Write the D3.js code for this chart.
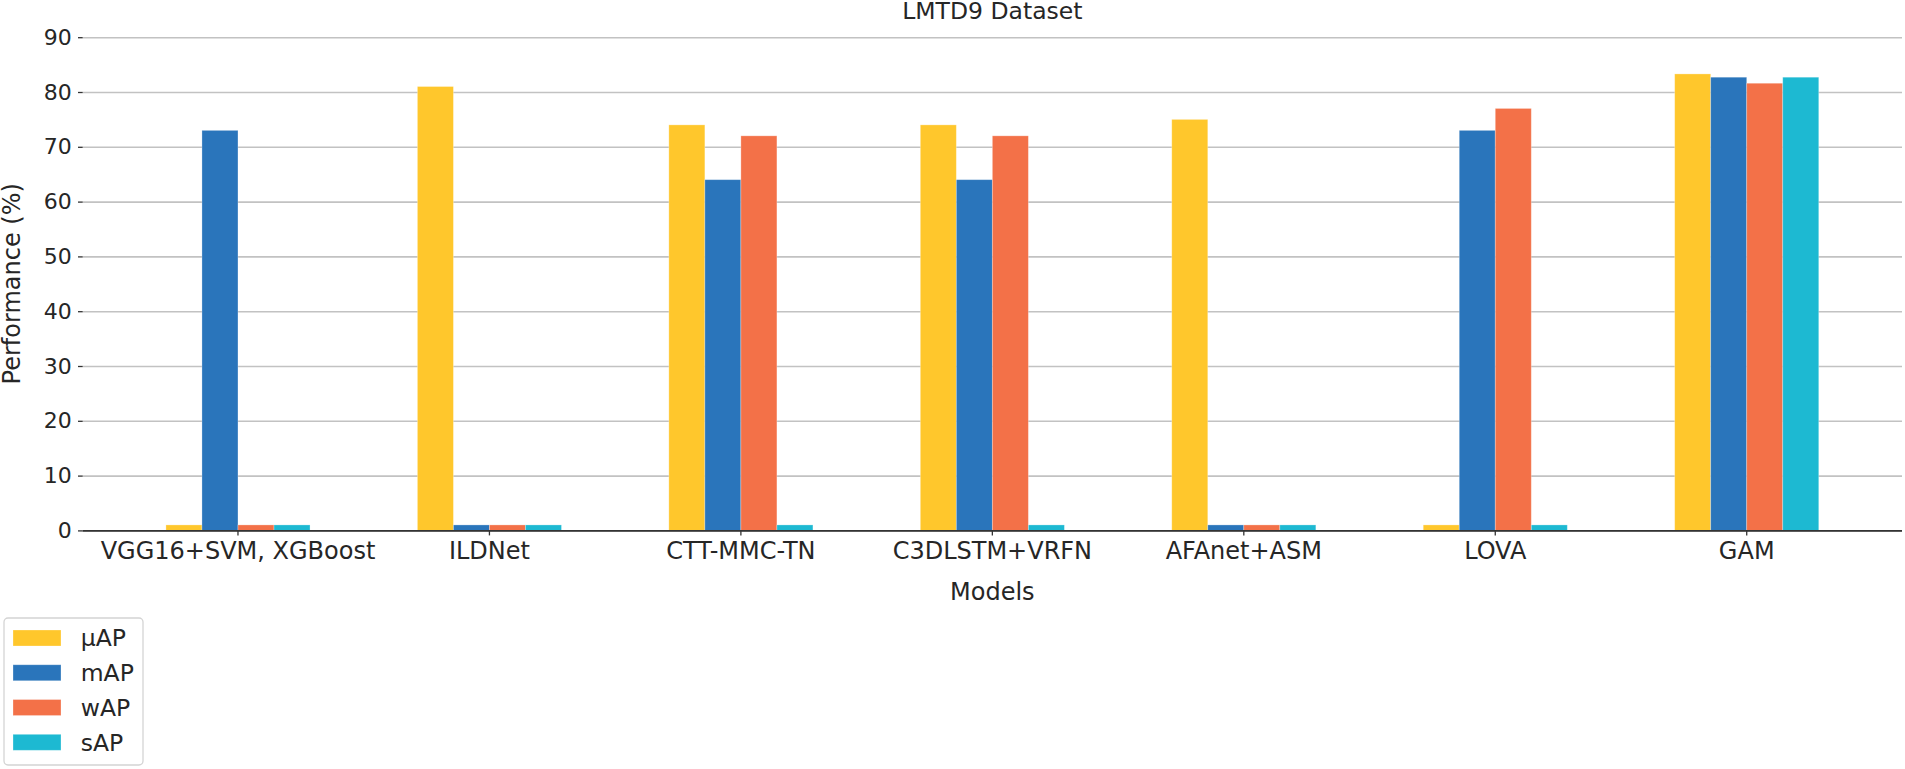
<!DOCTYPE html>
<html>
<head>
<meta charset="utf-8">
<script src="https://cdn.jsdelivr.net/npm/d3@7"></script>
<style>
  html, body { margin: 0; padding: 0; background: #fff; }
  svg { display: block; font-family: "DejaVu Sans", sans-serif; }
</style>
</head>
<body>
<svg id="chart" width="1905" height="769"></svg>
<script>
// ---- data ----
const categories = ["VGG16+SVM, XGBoost", "ILDNet", "CTT-MMC-TN", "C3DLSTM+VRFN", "AFAnet+ASM", "LOVA", "GAM"];
const seriesNames = ["µAP", "mAP", "wAP", "sAP"];
const muAP = [1, 81, 74, 74, 75, 1, 83.3];
const mAP  = [73, 1, 64, 64, 1, 73, 82.7];
const wAP  = [1, 1, 72, 72, 1, 77, 81.6];
const sAP  = [1, 1, 1, 1, 1, 1, 82.7];
const yTicks = [0, 10, 20, 30, 40, 50, 60, 70, 80, 90];
const colors = ["#FFC72C", "#2A75BB", "#F37148", "#1DB9D2"];
const chartTitle = "LMTD9 Dataset";
const xLabel = "Models";
const yLabel = "Performance (%)";

const seriesValues = [muAP, mAP, wAP, sAP];

(function () {
// ---- layout ----
const svg = d3.select("#chart");
const pLeft = 82.7, pRight = 1902, pTop = 37.2, pBottom = 530.4;
const textColor = "#262626";

const x0 = d3.scaleBand().domain(categories).range([pLeft, pRight])
  .paddingInner(0.427).paddingOuter(0.331);
const x1 = d3.scaleBand().domain(seriesNames).range([0, x0.bandwidth()]).padding(0);
const y = d3.scaleLinear().domain([0, 90]).range([pBottom, pTop]);

// gridlines
svg.append("g")
  .attr("transform", `translate(${pLeft},0)`)
  .call(d3.axisLeft(y).tickValues(yTicks).tickSize(-(pRight - pLeft)).tickFormat(""))
  .call(g => g.select(".domain").remove())
  .call(g => g.selectAll("line").attr("stroke", "#c2c2c2").attr("stroke-width", 1.6));

// bars
const rows = categories.map((c, i) => ({ cat: c, vals: seriesNames.map((s, j) => ({ s, v: seriesValues[j][i], c: colors[j] })) }));
svg.append("g").selectAll("g").data(rows).join("g")
  .attr("transform", d => `translate(${x0(d.cat)},0)`)
  .selectAll("rect").data(d => d.vals).join("rect")
  .attr("x", d => x1(d.s))
  .attr("y", d => y(d.v))
  .attr("width", x1.bandwidth())
  .attr("height", d => y(0) - y(d.v))
  .attr("fill", d => d.c)
  .attr("stroke", "rgba(255,255,255,0.35)")
  .attr("stroke-width", 0.8);

// y axis (ticks + labels)
svg.append("g")
  .attr("transform", `translate(${pLeft},0)`)
  .call(d3.axisLeft(y).tickValues(yTicks).tickSize(4.7).tickPadding(6.3))
  .call(g => g.select(".domain").remove())
  .call(g => g.selectAll("line").attr("stroke", "#333").attr("stroke-width", 1.3))
  .call(g => g.selectAll("text").attr("font-size", 22).attr("fill", textColor)
    .attr("font-family", "DejaVu Sans"));

// x axis
svg.append("g")
  .attr("transform", `translate(0,${pBottom})`)
  .call(d3.axisBottom(x0).tickSize(5).tickPadding(7).tickSizeOuter(0))
  .call(g => g.select(".domain").attr("stroke", "#333").attr("stroke-width", 1.6)
    .attr("d", `M${pLeft},0.5H${pRight}`))
  .call(g => g.selectAll("line").attr("stroke", "#333").attr("stroke-width", 1.3))
  .call(g => g.selectAll("text").attr("font-size", 24).attr("fill", textColor)
    .attr("font-family", "DejaVu Sans"));

// title
svg.append("text")
  .attr("x", (pLeft + pRight) / 2).attr("y", 19)
  .attr("text-anchor", "middle").attr("font-size", 23.5).attr("fill", textColor)
  .text(chartTitle);

// axis labels
svg.append("text")
  .attr("x", (pLeft + pRight) / 2).attr("y", 600)
  .attr("text-anchor", "middle").attr("font-size", 24).attr("fill", textColor)
  .text(xLabel);
svg.append("text")
  .attr("transform", `translate(19.5,${(pTop + pBottom) / 2}) rotate(-90)`)
  .attr("text-anchor", "middle").attr("font-size", 24).attr("fill", textColor)
  .text(yLabel);

// legend
const lg = svg.append("g");
lg.append("rect").attr("x", 4).attr("y", 618).attr("width", 139).attr("height", 147)
  .attr("rx", 4).attr("fill", "#fff").attr("stroke", "#d4d4d4").attr("stroke-width", 1.3);
const rowY = d3.scalePoint().domain(seriesNames).range([638, 742.3]);
seriesNames.forEach((s, j) => {
  lg.append("rect").attr("x", 13).attr("y", rowY(s) - 8).attr("width", 48).attr("height", 16)
    .attr("fill", colors[j]).attr("stroke", "rgba(255,255,255,0.35)").attr("stroke-width", 0.8);
  lg.append("text").attr("x", 80.7).attr("y", rowY(s)).attr("dy", "0.36em")
    .attr("font-size", 23.5).attr("fill", textColor).text(s);
});
})();
</script>
</body>
</html>
